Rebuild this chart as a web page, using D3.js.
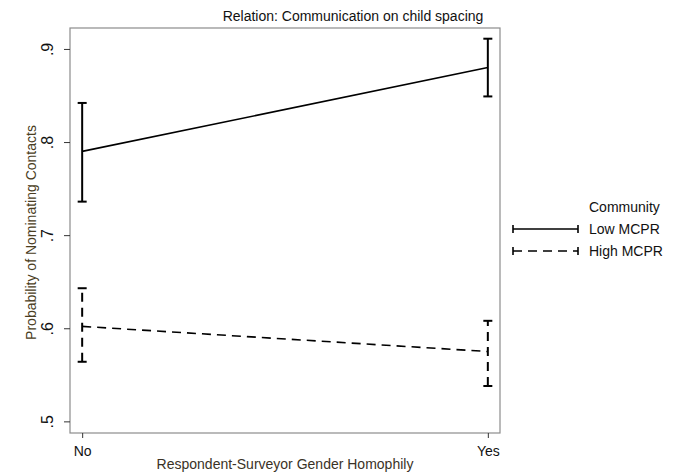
<!DOCTYPE html>
<html>
<head>
<meta charset="utf-8">
<script src="https://cdn.jsdelivr.net/npm/d3@7"></script>
<style>
  body { margin: 0; background: #fff; }
  text { font-family: "Liberation Sans", Arial, sans-serif; }
</style>
</head>
<body>
<div id="chart"></div>
<script>
// data
const categories = ["No", "Yes"];
const yTicks = [0.5, 0.6, 0.7, 0.8, 0.9];
const seriesNames = ["Low MCPR", "High MCPR"];
const lowMean = [0.790, 0.880];
const lowLo = [0.736, 0.849];
const lowHi = [0.842, 0.911];
const highMean = [0.602, 0.575];
const highLo = [0.564, 0.538];
const highHi = [0.643, 0.608];

const width = 680, height = 472;
const frame = { left: 70, right: 500, top: 28, bottom: 433 };

const svg = d3.select("#chart").append("svg")
  .attr("width", width).attr("height", height);

const x = d3.scaleLinear().domain([-0.03, 1.03]).range([frame.left, frame.right]);
const y = d3.scaleLinear().domain([0.4875, 0.9225]).range([frame.bottom, frame.top]);

// plot frame
svg.append("rect")
  .attr("x", frame.left).attr("y", frame.top)
  .attr("width", frame.right - frame.left).attr("height", frame.bottom - frame.top)
  .attr("fill", "none").attr("stroke", "#8c8c8c").attr("stroke-width", 1.2);

// y axis
const yAxis = svg.append("g").attr("transform", `translate(${frame.left},0)`)
  .call(d3.axisLeft(y).tickValues(yTicks).tickSize(6).tickFormat(d => d3.format(".1f")(d).replace(/^0/, "")));
yAxis.select(".domain").remove();
yAxis.selectAll(".tick line").attr("stroke", "#333");
yAxis.selectAll(".tick text")
  .attr("x", 0).attr("dy", 0)
  .attr("transform", "translate(-17,0) rotate(-90)")
  .attr("text-anchor", "middle")
  .attr("font-size", 16).attr("fill", "#111");

// x axis
const xAxis = svg.append("g").attr("transform", `translate(0,${frame.bottom})`)
  .call(d3.axisBottom(x).tickValues([0, 1]).tickSize(5).tickFormat(i => categories[i]));
xAxis.select(".domain").remove();
xAxis.selectAll(".tick line").attr("stroke", "#333");
xAxis.selectAll(".tick text").attr("y", 13).attr("font-size", 14).attr("fill", "#111");

// axis titles and title
svg.append("text")
  .attr("transform", `translate(36,${(frame.top + frame.bottom) / 2 + 2}) rotate(-90)`)
  .attr("text-anchor", "middle").attr("font-size", 14).attr("fill", "#4a3d22")
  .text("Probability of Nominating Contacts");

svg.append("text")
  .attr("x", (frame.left + frame.right) / 2).attr("y", 469)
  .attr("text-anchor", "middle").attr("font-size", 14).attr("fill", "#3a3226")
  .text("Respondent-Surveyor Gender Homophily");

svg.append("text")
  .attr("x", 353).attr("y", 21)
  .attr("text-anchor", "middle").attr("font-size", 14).attr("fill", "#111")
  .text("Relation: Communication on child spacing");

// series
const series = [
  { name: seriesNames[0], mean: lowMean, lo: lowLo, hi: lowHi, dash: null },
  { name: seriesNames[1], mean: highMean, lo: highLo, hi: highHi, dash: "9,6" }
];
const capW = 4.5;

series.forEach(s => {
  const g = svg.append("g");
  const pts = s.mean.map((m, i) => [x(i), y(m)]);
  g.append("path")
    .attr("d", d3.line()(pts))
    .attr("fill", "none").attr("stroke", "#000").attr("stroke-width", 1.6)
    .attr("stroke-dasharray", s.dash);
  s.mean.forEach((m, i) => {
    g.append("line")
      .attr("x1", x(i)).attr("x2", x(i)).attr("y1", y(s.lo[i])).attr("y2", y(s.hi[i]))
      .attr("stroke", "#000").attr("stroke-width", 2)
      .attr("stroke-dasharray", s.dash);
    [s.lo[i], s.hi[i]].forEach(v => {
      g.append("line")
        .attr("x1", x(i) - capW).attr("x2", x(i) + capW).attr("y1", y(v)).attr("y2", y(v))
        .attr("stroke", "#000").attr("stroke-width", 2);
    });
  });
});

// legend
const legend = svg.append("g");
legend.append("text").attr("x", 589).attr("y", 212)
  .attr("font-size", 14).attr("fill", "#111").text("Community");
series.forEach((s, i) => {
  const ly = 229 + i * 22;
  legend.append("line").attr("x1", 513).attr("x2", 578).attr("y1", ly).attr("y2", ly)
    .attr("stroke", "#000").attr("stroke-width", 1.6).attr("stroke-dasharray", s.dash);
  [513, 578].forEach(ex => legend.append("line")
    .attr("x1", ex).attr("x2", ex).attr("y1", ly - 4).attr("y2", ly + 4)
    .attr("stroke", "#000").attr("stroke-width", 1.6));
  legend.append("text").attr("x", 589).attr("y", ly + 5)
    .attr("font-size", 14).attr("fill", "#111").text(s.name);
});
</script>
</body>
</html>
